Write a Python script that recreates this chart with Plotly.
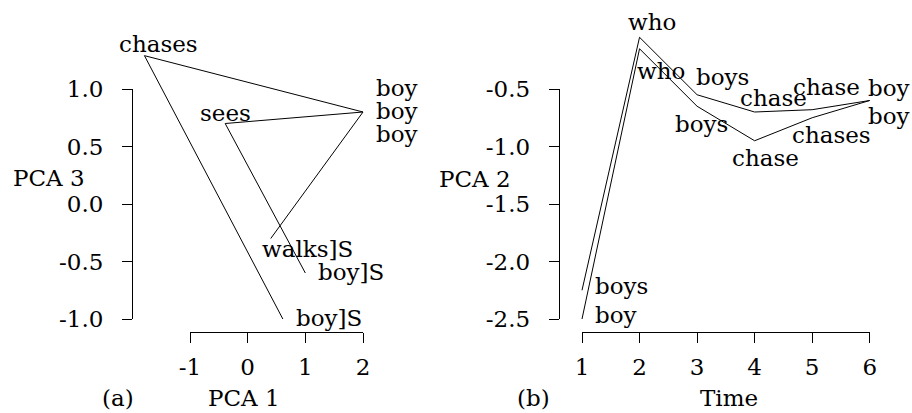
import plotly.graph_objects as go

# ---------------- data ----------------
# (a) hidden-unit trajectories projected on PCA 1 / PCA 3
words_a1 = ["boy", "chases", "boy]S"]
pca1_a1 = [2.00, -1.79, 0.61]
pca3_a1 = [0.80, 1.29, -1.00]

words_a2 = ["boy", "sees", "boy]S"]
pca1_a2 = [2.00, -0.39, 1.00]
pca3_a2 = [0.80, 0.70, -0.60]

words_a3 = ["boy", "walks]S"]
pca1_a3 = [2.00, 0.40]
pca3_a3 = [0.80, -0.30]

# (b) PCA 2 over time for two relative-clause sentences
time_steps = [1, 2, 3, 4, 5, 6]
words_b1 = ["boys", "who", "boys", "chase", "chase", "boy"]
pca2_b1 = [-2.25, -0.05, -0.55, -0.70, -0.68, -0.60]
words_b2 = ["boy", "who", "boys", "chase", "chases", "boy"]
pca2_b2 = [-2.50, -0.15, -0.65, -0.95, -0.75, -0.60]

a_xticks = [-1, 0, 1, 2]
a_xtext = ["-1", "0", "1", "2"]
a_yticks = [-1.0, -0.5, 0.0, 0.5, 1.0]
a_ytext = ["-1.0", "-0.5", "0.0", "0.5", "1.0"]
b_xticks = [1, 2, 3, 4, 5, 6]
b_xtext = ["1", "2", "3", "4", "5", "6"]
b_yticks = [-2.5, -2.0, -1.5, -1.0, -0.5]
b_ytext = ["-2.5", "-2.0", "-1.5", "-1.0", "-0.5"]

# ---------------- layout geometry (pixels) ----------------
W, H = 912, 413
FONT = dict(family="DejaVu Serif", size=23, color="black")

# panel (a): pixels per unit and origin
ax_ppu, ax_x0 = 57.67, 247.67
ay_ppu, ay_y0 = 115.0, 204.0
# panel (b)
bx_ppu, bx_1 = 57.54, 582.0
by_ppu, by_m15 = 115.0, 204.0

def px(v):
    return v / W

def py(v):
    return 1 - v / H

fig = go.Figure()

line_style = dict(color="black", width=1)
for xs, ys in [(pca1_a1, pca3_a1), (pca1_a2, pca3_a2), (pca1_a3, pca3_a3)]:
    fig.add_trace(go.Scatter(x=xs, y=ys, mode="lines", line=line_style,
                             xaxis="x", yaxis="y", hoverinfo="skip"))
for ys in [pca2_b1, pca2_b2]:
    fig.add_trace(go.Scatter(x=time_steps, y=ys, mode="lines", line=line_style,
                             xaxis="x2", yaxis="y2", hoverinfo="skip"))

# empty traces so the drawn (detached) axes exist
fig.add_trace(go.Scatter(x=[None], y=[None], xaxis="x3", yaxis="y3", hoverinfo="skip"))
fig.add_trace(go.Scatter(x=[None], y=[None], xaxis="x4", yaxis="y4", hoverinfo="skip"))

annotations = []

def label(x, y, text, xref, yref, dx, dy, anchor="center"):
    annotations.append(dict(x=x, y=y, xref=xref, yref=yref, text=text,
                            showarrow=False, xanchor=anchor, yanchor="middle",
                            xshift=dx, yshift=dy, font=FONT))

# panel (a) word labels: (dx, dy, anchor) per point
offs_a1 = [(11, 24, "left"), (14, 12, "center"), (11, 1, "left")]
offs_a2 = [(11, 1, "left"), (0, 11, "center"), (11, 1, "left")]
offs_a3 = [(11, -22, "left"), (-11, -10, "left")]
for ws, xs, ys, offs in [(words_a1, pca1_a1, pca3_a1, offs_a1),
                         (words_a2, pca1_a2, pca3_a2, offs_a2),
                         (words_a3, pca1_a3, pca3_a3, offs_a3)]:
    for w, xv, yv, (dx, dy, an) in zip(ws, xs, ys, offs):
        label(xv, yv, w, "x", "y", dx, dy, an)

# panel (b) word labels
offs_b1 = [(11, 4, "left"), (12, 15, "center"), (25, 18, "center"),
           (19, 14, "center"), (14, 23, "center"), (-4, 13, "left")]
offs_b2 = [(11, 4, "left"), (21, -22, "center"), (4, -18, "center"),
           (11, -17, "center"), (19, -17, "center"), (-4, -15, "left")]
for ws, ys, offs in [(words_b1, pca2_b1, offs_b1), (words_b2, pca2_b2, offs_b2)]:
    for w, tv, yv, (dx, dy, an) in zip(ws, time_steps, ys, offs):
        label(tv, yv, w, "x2", "y2", dx, dy, an)

# axis titles and panel tags
def paper_text(xc, yc, text, anchor="center"):
    annotations.append(dict(x=px(xc), y=py(yc), xref="paper", yref="paper",
                            text=text, showarrow=False, xanchor=anchor,
                            yanchor="middle", font=FONT))

paper_text(11, 178, "PCA 3", "left")
paper_text(244, 398, "PCA 1")
paper_text(118, 398, "(a)")
paper_text(437, 179, "PCA 2", "left")
paper_text(729, 398, "Time")
paper_text(533, 398, "(b)")

hidden = dict(visible=False, showgrid=False, zeroline=False, automargin=False)
tick_axis = dict(showline=True, linecolor="black", linewidth=1, ticks="outside",
                 ticklen=10, tickwidth=1, tickcolor="black", showgrid=False,
                 zeroline=False, tickfont=FONT, tickmode="array", automargin=False)

fig.update_layout(
    template="none",
    width=W, height=H, margin=dict(l=0, r=0, t=0, b=0, pad=0, autoexpand=False),
    paper_bgcolor="white", plot_bgcolor="rgba(0,0,0,0)",
    showlegend=False, font=FONT, annotations=annotations,
    # invisible data axes spanning each half of the canvas
    xaxis=dict(domain=[0, 0.5], range=[(0 - ax_x0) / ax_ppu, (456 - ax_x0) / ax_ppu], **hidden),
    yaxis=dict(domain=[0, 1], range=[(ay_y0 - H) / ay_ppu, ay_y0 / ay_ppu], **hidden),
    xaxis2=dict(domain=[0.5, 1], range=[1 + (456 - bx_1) / bx_ppu, 1 + (912 - bx_1) / bx_ppu], **hidden),
    yaxis2=dict(domain=[0, 1], anchor="x2",
                range=[-1.5 + (by_m15 - H) / by_ppu, -1.5 + by_m15 / by_ppu], **hidden),
    # detached drawn axes
    xaxis3=dict(domain=[px(ax_x0 - ax_ppu), px(ax_x0 + 2 * ax_ppu)], range=[-1, 2],
                anchor="free", position=py(332), tickvals=a_xticks, ticktext=a_xtext,
                ticklabelstandoff=4, **tick_axis),
    yaxis3=dict(domain=[py(ay_y0 + ay_ppu), py(ay_y0 - ay_ppu)], range=[-1, 1],
                anchor="free", position=px(132), tickvals=a_yticks, ticktext=a_ytext,
                ticklabelstandoff=14, **tick_axis),
    xaxis4=dict(domain=[px(bx_1), px(bx_1 + 5 * bx_ppu)], range=[1, 6],
                anchor="free", position=py(332), tickvals=b_xticks, ticktext=b_xtext,
                ticklabelstandoff=4, **tick_axis),
    yaxis4=dict(domain=[py(by_m15 + by_ppu), py(by_m15 - by_ppu)], range=[-2.5, -0.5],
                anchor="free", position=px(558.7), tickvals=b_yticks, ticktext=b_ytext,
                ticklabelstandoff=14, **tick_axis),
)

fig.write_html("out.html")
